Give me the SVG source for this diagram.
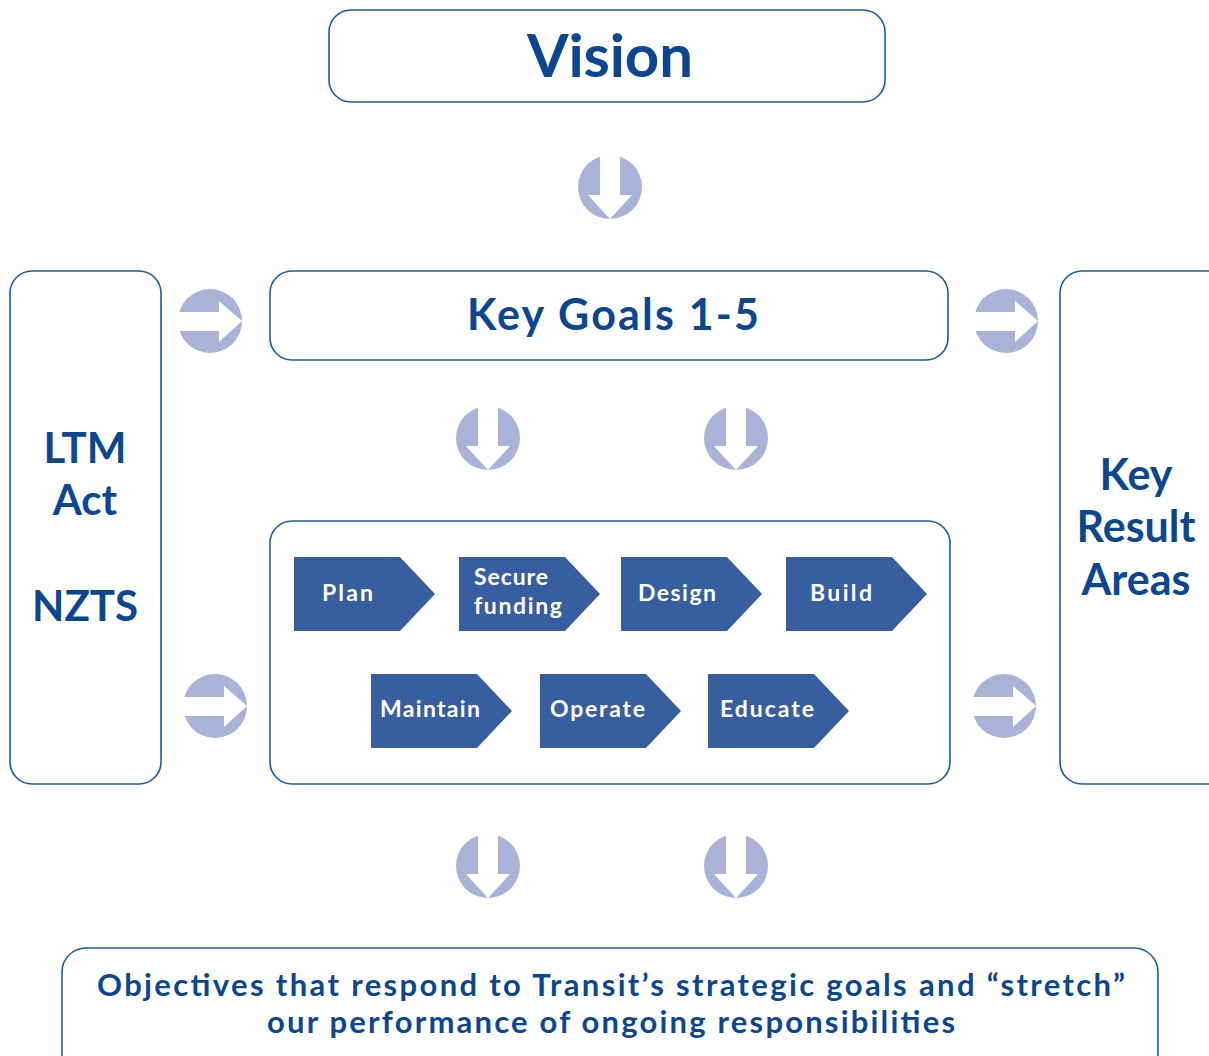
<svg xmlns="http://www.w3.org/2000/svg" width="1209" height="1056" viewBox="0 0 1209 1056">
<style>
.box{fill:#fff;stroke:#1f5a9c;stroke-width:1.6}
.t{font-family:Lato,"Open Sans","Liberation Sans",sans-serif;font-weight:bold;fill:#0b4790;text-anchor:middle}
.chev{fill:#375e9e}
.ct{font-family:Lato,"Open Sans","Liberation Sans",sans-serif;font-weight:bold;fill:#fff;font-size:23px}
.circ{fill:#a9b3d7}
.cut{fill:#fff}
</style>
<defs>
<g id="down"><circle class="circ" cx="0" cy="0" r="32"/><polygon class="cut" points="-10,-34 10,-34 10,8 22,8 0,32 -22,8 -10,8"/></g>
<g id="right"><circle class="circ" cx="0" cy="0" r="32"/><polygon class="cut" points="-34,-9 9,-9 9,-20 32,0 9,21 9,10 -34,10"/></g>
<polygon id="chev" points="0,0 106,0 141,37 106,74 0,74"/>
</defs>
<rect width="1209" height="1056" fill="#fff"/>
<g id="connectors">
<use href="#down" x="610" y="187"/>
<use href="#down" x="488" y="438"/>
<use href="#down" x="736" y="438"/>
<use href="#down" x="488" y="866"/>
<use href="#down" x="736" y="866"/>
<use href="#right" x="210" y="321"/>
<use href="#right" x="1006" y="321"/>
<use href="#right" x="215" y="706"/>
<use href="#right" x="1004" y="706"/>
</g>
<g id="vision"><rect class="box" x="329" y="10" width="556" height="92" rx="22"/><text class="t" x="610" y="77" font-size="60" textLength="166">Vision</text></g>
<g id="keygoals"><rect class="box" x="270" y="271" width="678" height="89" rx="22"/><text class="t" x="613" y="330" font-size="43" textLength="292">Key Goals 1-5</text></g>
<g id="ltm"><rect class="box" x="10" y="271" width="151" height="513" rx="22"/><text class="t" font-size="42"><tspan x="85" y="463">LTM</tspan><tspan x="85" y="515">Act</tspan><tspan x="85" y="621">NZTS</tspan></text></g>
<g id="kra"><rect class="box" x="1060" y="271" width="170" height="513" rx="22"/><text class="t" font-size="43"><tspan x="1136" y="490">Key</tspan><tspan x="1136" y="542">Result</tspan><tspan x="1136" y="595">Areas</tspan></text></g>
<g id="process"><rect class="box" x="270" y="521" width="680" height="263" rx="22"/></g>
<g id="plan"><use href="#chev" class="chev" x="294" y="557"/><text class="ct" x="322" y="601" textLength="51">Plan</text></g>
<g id="secure"><use href="#chev" class="chev" x="459" y="557"/><text class="ct"><tspan x="474" y="585" textLength="74">Secure</tspan><tspan x="474" y="614" textLength="88">funding</tspan></text></g>
<g id="design"><use href="#chev" class="chev" x="621" y="557"/><text class="ct" x="638" y="601" textLength="78">Design</text></g>
<g id="build"><use href="#chev" class="chev" x="786" y="557"/><text class="ct" x="810" y="601" textLength="62">Build</text></g>
<g id="maintain"><use href="#chev" class="chev" x="371" y="674"/><text class="ct" x="380" y="717" textLength="100">Maintain</text></g>
<g id="operate"><use href="#chev" class="chev" x="540" y="674"/><text class="ct" x="550" y="717" textLength="95">Operate</text></g>
<g id="educate"><use href="#chev" class="chev" x="708" y="674"/><text class="ct" x="720" y="717" textLength="94">Educate</text></g>
<g id="objectives"><rect class="box" x="62" y="948" width="1096" height="130" rx="24"/><text class="t" font-size="31"><tspan x="611" y="996" textLength="1028">Objectives that respond to Transit’s strategic goals and “stretch”</tspan><tspan x="611" y="1033" textLength="688">our performance of ongoing responsibilities</tspan></text></g>
</svg>
